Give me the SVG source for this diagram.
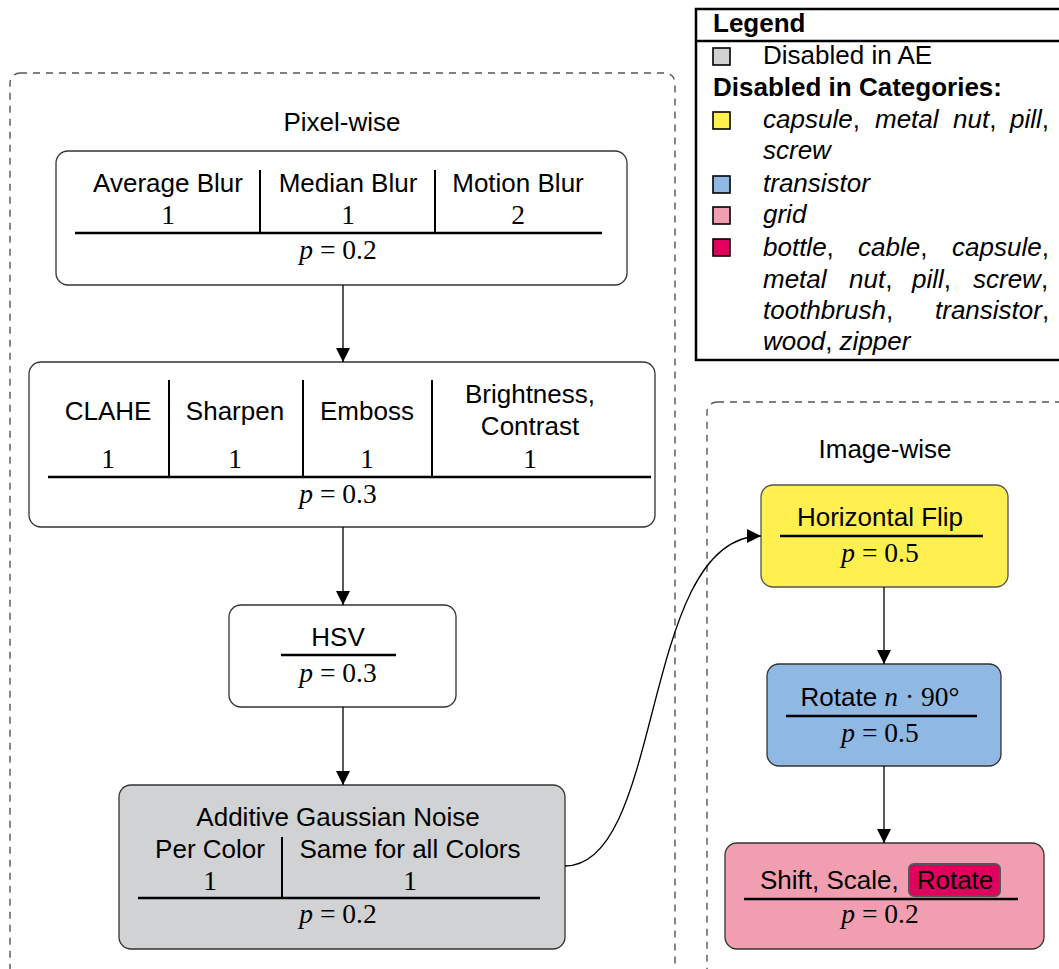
<svg xmlns="http://www.w3.org/2000/svg" width="1059" height="969" viewBox="0 0 1059 969">
<defs>
<marker id="ah" viewBox="0 0 10 10" refX="10" refY="5" markerWidth="14" markerHeight="14" markerUnits="userSpaceOnUse" orient="auto">
<path d="M0,0 L10,5 L0,10 Z" fill="#000"/>
</marker>
<style>
.sans{font-family:"Liberation Sans",Arial,sans-serif;font-size:26px;fill:#000}
.bold{font-weight:bold}
.it{font-style:italic}
.math{font-family:"Liberation Serif","Times New Roman",serif;font-size:27.5px;fill:#000}
.mi{font-style:italic}
.node{stroke:#333;stroke-width:1.3}
.rule{stroke:#000;stroke-width:2.5}
.div{stroke:#000;stroke-width:2}
.group{fill:none;stroke:#555;stroke-width:1.4;stroke-dasharray:7 6}
.edge{fill:none;stroke:#000;stroke-width:1.3}
.sw{stroke:#000;stroke-width:1.6}
</style>
</defs>
<rect width="1059" height="969" fill="#fff"/>

<g id="group-pixel">
<rect class="group" x="10" y="73" width="665" height="920" rx="10"/>
<text class="sans" x="342" y="131" text-anchor="middle">Pixel-wise</text>
</g>
<g id="group-image">
<rect class="group" x="707" y="402" width="400" height="600" rx="10"/>
<text class="sans" x="885" y="458" text-anchor="middle">Image-wise</text>
</g>

<g id="legend">
<rect x="696" y="9" width="400" height="351" fill="#fff" stroke="#000" stroke-width="2.5"/>
<line x1="696" y1="41" x2="1059" y2="41" stroke="#000" stroke-width="2.5"/>
<text class="sans bold" x="713" y="32">Legend</text>
<rect class="sw" x="713" y="48" width="17" height="17" fill="#d1d2d4"/>
<text class="sans" x="763" y="64">Disabled in AE</text>
<text class="sans bold" x="713" y="96">Disabled in Categories:</text>
<rect class="sw" x="713" y="112" width="17" height="17" fill="#fff050"/>
<text class="sans"><tspan x="763" y="128" class="it">capsule</tspan><tspan>,</tspan><tspan x="875" class="it">metal</tspan><tspan x="953" class="it">nut</tspan><tspan>,</tspan><tspan x="1010" class="it">pill</tspan><tspan>,</tspan></text>
<text class="sans it" x="763" y="159">screw</text>
<rect class="sw" x="713" y="176" width="17" height="17" fill="#8fb8e3"/>
<text class="sans it" x="763" y="192">transistor</text>
<rect class="sw" x="713" y="207" width="17" height="17" fill="#f19fb0"/>
<text class="sans it" x="763" y="223">grid</text>
<rect class="sw" x="713" y="239" width="17" height="17" fill="#e0005e"/>
<text class="sans"><tspan x="763" y="256" class="it">bottle</tspan><tspan>,</tspan><tspan x="858" class="it">cable</tspan><tspan>,</tspan><tspan x="952" class="it">capsule</tspan><tspan>,</tspan></text>
<text class="sans"><tspan x="763" y="288" class="it">metal</tspan><tspan x="849" class="it">nut</tspan><tspan>,</tspan><tspan x="912" class="it">pill</tspan><tspan>,</tspan><tspan x="973" class="it">screw</tspan><tspan>,</tspan></text>
<text class="sans"><tspan x="763" y="319" class="it">toothbrush</tspan><tspan>,</tspan><tspan x="935" class="it">transistor</tspan><tspan>,</tspan></text>
<text class="sans"><tspan x="763" y="350" class="it">wood</tspan><tspan>, </tspan><tspan class="it">zipper</tspan></text>
</g>

<g id="node-blur">
<rect class="node" x="56" y="151" width="571" height="134" rx="12" fill="#fff"/>
<text class="sans" x="168" y="192" text-anchor="middle">Average Blur</text>
<text class="sans" x="348" y="192" text-anchor="middle">Median Blur</text>
<text class="sans" x="518" y="192" text-anchor="middle">Motion Blur</text>
<text class="math" x="168" y="224" text-anchor="middle">1</text>
<text class="math" x="348" y="224" text-anchor="middle">1</text>
<text class="math" x="518" y="224" text-anchor="middle">2</text>
<line class="div" x1="260" y1="170" x2="260" y2="233"/>
<line class="div" x1="435" y1="170" x2="435" y2="233"/>
<line class="rule" x1="75" y1="233" x2="602" y2="233"/>
<text class="math" x="338" y="259" text-anchor="middle"><tspan class="mi">p</tspan> = 0.2</text>
</g>

<g id="node-filters">
<rect class="node" x="29" y="362" width="626" height="165" rx="12" fill="#fff"/>
<text class="sans" x="108" y="420" text-anchor="middle">CLAHE</text>
<text class="sans" x="235" y="420" text-anchor="middle">Sharpen</text>
<text class="sans" x="367" y="420" text-anchor="middle">Emboss</text>
<text class="sans" x="530" y="403" text-anchor="middle">Brightness,</text>
<text class="sans" x="530" y="435" text-anchor="middle">Contrast</text>
<text class="math" x="108" y="468" text-anchor="middle">1</text>
<text class="math" x="235" y="468" text-anchor="middle">1</text>
<text class="math" x="367" y="468" text-anchor="middle">1</text>
<text class="math" x="530" y="468" text-anchor="middle">1</text>
<line class="div" x1="169" y1="380" x2="169" y2="477"/>
<line class="div" x1="303" y1="380" x2="303" y2="477"/>
<line class="div" x1="432" y1="380" x2="432" y2="477"/>
<line class="rule" x1="48" y1="477" x2="651" y2="477"/>
<text class="math" x="338" y="503" text-anchor="middle"><tspan class="mi">p</tspan> = 0.3</text>
</g>

<g id="node-hsv">
<rect class="node" x="229" y="605" width="227" height="102" rx="12" fill="#fff"/>
<text class="sans" x="338" y="646" text-anchor="middle">HSV</text>
<line class="rule" x1="281" y1="655" x2="396" y2="655"/>
<text class="math" x="338" y="682" text-anchor="middle"><tspan class="mi">p</tspan> = 0.3</text>
</g>

<g id="node-noise">
<rect class="node" x="119" y="785" width="446" height="164" rx="12" fill="#d1d2d4"/>
<text class="sans" x="338" y="826" text-anchor="middle">Additive Gaussian Noise</text>
<text class="sans" x="210" y="858" text-anchor="middle">Per Color</text>
<text class="sans" x="410" y="858" text-anchor="middle">Same for all Colors</text>
<text class="math" x="210" y="890" text-anchor="middle">1</text>
<text class="math" x="410" y="890" text-anchor="middle">1</text>
<line class="div" x1="282" y1="837" x2="282" y2="898"/>
<line class="rule" x1="138" y1="898" x2="540" y2="898"/>
<text class="math" x="338" y="923" text-anchor="middle"><tspan class="mi">p</tspan> = 0.2</text>
</g>

<g id="node-hflip">
<rect x="761" y="485" width="247" height="102" rx="12" fill="#fff050" stroke="#555" stroke-width="1.3"/>
<text class="sans" x="880" y="526" text-anchor="middle">Horizontal Flip</text>
<line class="rule" x1="780" y1="536" x2="983" y2="536"/>
<text class="math" x="880" y="562" text-anchor="middle"><tspan class="mi">p</tspan> = 0.5</text>
</g>

<g id="node-rotate">
<rect x="767" y="664" width="234" height="102" rx="12" fill="#8fb8e3" stroke="#333" stroke-width="1.3"/>
<text x="880" y="706" text-anchor="middle"><tspan class="sans">Rotate </tspan><tspan class="math"><tspan class="mi">n</tspan> · 90°</tspan></text>
<line class="rule" x1="786" y1="716" x2="977" y2="716"/>
<text class="math" x="880" y="742" text-anchor="middle"><tspan class="mi">p</tspan> = 0.5</text>
</g>

<g id="node-affine">
<rect x="725" y="843" width="319" height="106" rx="12" fill="#f19fb0" stroke="#333" stroke-width="1.3"/>
<text class="sans" x="760" y="889">Shift, Scale,</text>
<rect x="909" y="864" width="91" height="32" rx="5" fill="#e0005e" stroke="#555" stroke-width="2"/>
<text class="sans" x="955" y="889" text-anchor="middle">Rotate</text>
<line class="rule" x1="744" y1="899" x2="1018" y2="899"/>
<text class="math" x="880" y="923" text-anchor="middle"><tspan class="mi">p</tspan> = 0.2</text>
</g>

<g id="connectors">
<line class="edge" x1="343" y1="285" x2="343" y2="362" marker-end="url(#ah)"/>
<line class="edge" x1="343" y1="527" x2="343" y2="605" marker-end="url(#ah)"/>
<line class="edge" x1="343" y1="707" x2="343" y2="785" marker-end="url(#ah)"/>
<path class="edge" d="M565,866 C665,866 640,536 761,536" marker-end="url(#ah)"/>
<line class="edge" x1="884" y1="587" x2="884" y2="664" marker-end="url(#ah)"/>
<line class="edge" x1="884" y1="766" x2="884" y2="843" marker-end="url(#ah)"/>
</g>
</svg>
